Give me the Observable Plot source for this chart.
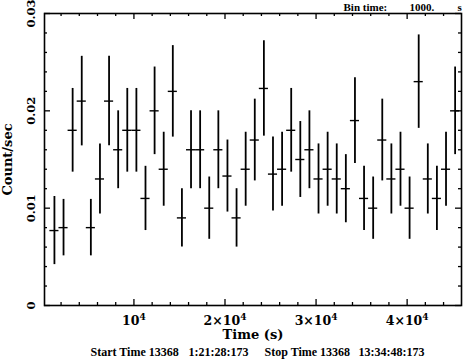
<!DOCTYPE html>
<html>
<head>
<meta charset="utf-8">
<script src="https://cdn.jsdelivr.net/npm/d3@7"></script>
<script src="https://cdn.jsdelivr.net/npm/@observablehq/plot@0.6"></script>
<style>
  html, body { margin: 0; padding: 0; background: #fff; }
  #chart svg { display: block; }
</style>
</head>
<body>
<div id="chart"></div>
<script>
// Bin centre times (s)
const times = [1270, 2270, 3270, 4270, 5270, 6270, 7270, 8270, 9270, 10270,
  11270, 12270, 13270, 14270, 15270, 16270, 17270, 18270, 19270, 20270,
  21270, 22270, 23270, 24270, 25270, 26270, 27270, 28270, 29270, 30270,
  31270, 32270, 33270, 34270, 35270, 36270, 37270, 38270, 39270, 40270,
  41270, 42270, 43270, 44270, 45270];
// Count rates (count/sec)
const rates = [0.0077, 0.0080, 0.0180, 0.0210, 0.0080, 0.0130, 0.0210, 0.0160, 0.0180, 0.0180,
  0.0110, 0.0200, 0.0140, 0.0220, 0.0090, 0.0160, 0.0160, 0.0100, 0.0160, 0.0133,
  0.0090, 0.0140, 0.0170, 0.0223, 0.0135, 0.0140, 0.0180, 0.0150, 0.0160, 0.0130,
  0.0140, 0.0130, 0.0120, 0.0190, 0.0110, 0.0100, 0.0170, 0.0130, 0.0140, 0.0100,
  0.0230, 0.0130, 0.0110, 0.0140, 0.0200];
// 1-sigma errors on rates
const errors = [0.0035, 0.0029, 0.0043, 0.0046, 0.0029, 0.0036, 0.0046, 0.0040, 0.0043, 0.0043,
  0.0033, 0.0045, 0.0038, 0.0047, 0.0030, 0.0040, 0.0040, 0.0032, 0.0040, 0.0037,
  0.0030, 0.0038, 0.0042, 0.0049, 0.0038, 0.0038, 0.0043, 0.0039, 0.0040, 0.0036,
  0.0038, 0.0036, 0.0035, 0.0044, 0.0033, 0.0032, 0.0042, 0.0036, 0.0038, 0.0032,
  0.0048, 0.0036, 0.0033, 0.0038, 0.0045];
const halfBin = 500;

const xMajorTicks = [10000, 20000, 30000, 40000];
const xMajorLabels = ["10", "2\u00d710", "3\u00d710", "4\u00d710"];
const xLabelExponent = "4";
const xMinorTicks = [2000, 4000, 6000, 8000, 12000, 14000, 16000, 18000, 22000, 24000, 26000, 28000,
  32000, 34000, 36000, 38000, 42000, 44000];
const yMajorTicks = [0, 0.01, 0.02, 0.03];
const yMajorLabels = ["0", "0.01", "0.02", "0.03"];
const yMinorTicks = [0.002, 0.004, 0.006, 0.008, 0.012, 0.014, 0.016, 0.018, 0.022, 0.024, 0.026, 0.028];

const data = times.map((t, i) => ({t, v: rates[i], e: errors[i]}));

const W = 466, H = 361;
const mL = 44, mR = 5, mT = 13, mB = 56;
const fh = H - mT - mB, fw = W - mL - mR;
const font = "'DejaVu Serif', serif";
const capFont = "'Liberation Serif', serif";

function cap(str, dx, top) {
  return Plot.text([str], {text: d => d, frameAnchor: top ? "top-left" : "bottom-left",
    dx, dy: top ? -6.5 : 47, textAnchor: "start", lineAnchor: "middle", fontSize: top ? 11 : 12,
    fill: "#000", fontFamily: capFont});
}

const chart = Plot.plot({
  width: W, height: H,
  marginLeft: mL, marginRight: mR, marginTop: mT, marginBottom: mB,
  style: {background: "#fff", fontFamily: font, fontWeight: "bold", color: "#000"},
  x: {domain: [180, 45970], axis: null},
  y: {domain: [0, 0.03], axis: null},
  marks: [
    // error bars
    Plot.ruleX(data, {x: "t", y1: d => d.v - d.e, y2: d => d.v + d.e, stroke: "#000", strokeWidth: 1.8}),
    Plot.ruleY(data, {y: "v", x1: d => d.t - halfBin, x2: d => d.t + halfBin, stroke: "#000", strokeWidth: 1.4}),
    // inward ticks, bottom & top
    Plot.tickX(xMajorTicks, {x: d => d, insetTop: fh - 6, stroke: "#000", strokeWidth: 1.3}),
    Plot.tickX(xMajorTicks, {x: d => d, insetBottom: fh - 6, stroke: "#000", strokeWidth: 1.3}),
    Plot.tickX(xMinorTicks, {x: d => d, insetTop: fh - 3, stroke: "#000", strokeWidth: 1.3}),
    Plot.tickX(xMinorTicks, {x: d => d, insetBottom: fh - 3, stroke: "#000", strokeWidth: 1.3}),
    // inward ticks, left & right
    Plot.tickY(yMajorTicks, {y: d => d, insetRight: fw - 6, stroke: "#000", strokeWidth: 1.3}),
    Plot.tickY(yMajorTicks, {y: d => d, insetLeft: fw - 6, stroke: "#000", strokeWidth: 1.3}),
    Plot.tickY(yMinorTicks, {y: d => d, insetRight: fw - 3, stroke: "#000", strokeWidth: 1.3}),
    Plot.tickY(yMinorTicks, {y: d => d, insetLeft: fw - 3, stroke: "#000", strokeWidth: 1.3}),
    Plot.frame({stroke: "#000", strokeWidth: 1.6}),
    // tick labels
    Plot.text(xMajorTicks, {x: d => d, text: (d, i) => xMajorLabels[i], frameAnchor: "bottom",
      dy: 15, lineAnchor: "middle", fontSize: 12.5, fill: "#000", className: "xtl"}),
    Plot.text(yMajorTicks, {y: d => d, text: (d, i) => yMajorLabels[i], frameAnchor: "left",
      dx: -13, rotate: -90, textAnchor: "middle", lineAnchor: "middle", fontSize: 11.5, fill: "#000"}),
    // axis titles
    Plot.text(["Time (s)"], {text: d => d, frameAnchor: "bottom", dy: 29, lineAnchor: "middle",
      fontSize: 13, fill: "#000"}),
    Plot.text(["Count/sec"], {text: d => d, frameAnchor: "left", dx: -37, rotate: -90,
      textAnchor: "middle", lineAnchor: "middle", fontSize: 13, fill: "#000"}),
    // captions
    cap("Start Time 13368", 46, false),
    cap("1:21:28:173", 144, false),
    cap("Stop Time 13368", 220, false),
    cap("13:34:48:173", 314, false),
    cap("Bin time:", 299, true),
    cap("1000.", 365, true),
    cap("s", 413, true)
  ]
});
// add raised exponent to x tick labels (text-anchor middle covers the whole chunk)
chart.querySelectorAll("g.xtl text").forEach(t => {
  const ts = document.createElementNS("http://www.w3.org/2000/svg", "tspan");
  ts.setAttribute("dy", "-5");
  ts.setAttribute("font-size", "9");
  ts.textContent = xLabelExponent;
  t.appendChild(ts);
});
document.getElementById("chart").appendChild(chart);
</script>
</body>
</html>
